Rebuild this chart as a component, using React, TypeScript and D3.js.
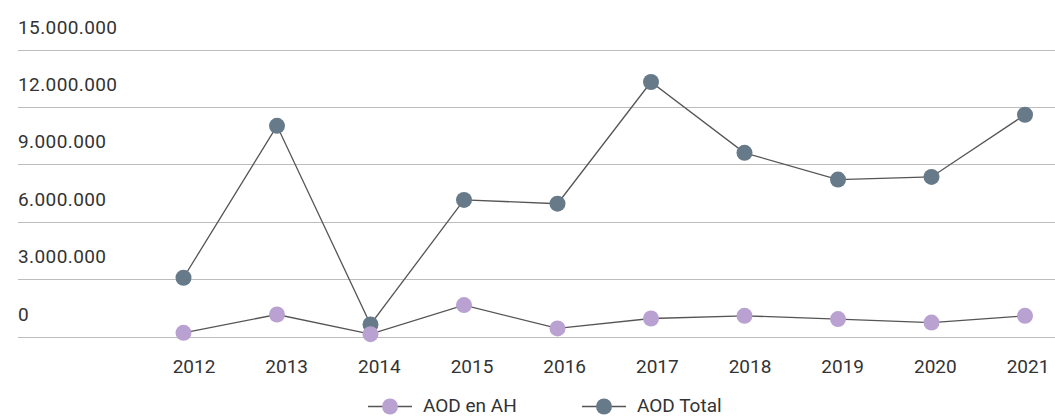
import React, { useEffect, useRef } from 'react';
import * as d3 from 'd3';

const years = ['2012', '2013', '2014', '2015', '2016', '2017', '2018', '2019', '2020', '2021'];
const aodTotal = [3070000, 11010000, 630000, 7140000, 6940000, 13300000, 9600000, 8200000, 8340000, 11590000];
const aodAH = [190000, 1150000, 120000, 1640000, 420000, 940000, 1080000, 910000, 730000, 1080000];
const yTicks = [0, 3000000, 6000000, 9000000, 12000000, 15000000];

const series = [
  { name: 'AOD en AH', values: aodAH, color: '#b9a1d1' },
  { name: 'AOD Total', values: aodTotal, color: '#677a8a' },
];

const W = 1055;
const H = 417;
const FONT = 'Roboto, sans-serif';

const App = () => {
  const svgRef = useRef<SVGSVGElement>(null);

  useEffect(() => {
    const svg = d3.select(svgRef.current);
    svg.selectAll('*').remove();

    const x = d3.scalePoint<string>().domain(years).range([183.5, 1025]);
    const xLabel = d3.scalePoint<string>().domain(years).range([194, 1028]);
    const y = d3.scaleLinear().domain([0, 15000000]).range([336.5, 49.5]);

    // grid + y labels
    const grid = svg.append('g');
    grid.selectAll('line')
      .data(yTicks)
      .join('line')
      .attr('x1', 18)
      .attr('x2', W)
      .attr('y1', d => Math.round(y(d)) + 0.5)
      .attr('y2', d => Math.round(y(d)) + 0.5)
      .attr('stroke', '#bdbdbd')
      .attr('stroke-width', 1);

    grid.selectAll('text')
      .data(yTicks)
      .join('text')
      .attr('x', 18)
      .attr('y', d => y(d) - 16)
      .style('font-family', FONT)
      .style('font-size', '19px')
      .style('letter-spacing', '0.4px')
      .style('fill', '#333')
      .text(d => d3.format(',')(d).replace(/,/g, '.'));

    // x labels
    svg.append('g')
      .selectAll('text')
      .data(years)
      .join('text')
      .attr('x', d => xLabel(d)!)
      .attr('y', 373)
      .attr('text-anchor', 'middle')
      .style('font-family', FONT)
      .style('font-size', '19px')
      .style('fill', '#333')
      .text(d => d);

    const line = d3.line<number>()
      .x((_, i) => x(years[i])!)
      .y(d => y(d));

    // draw total first so AH dots sit on top
    [series[1], series[0]].forEach(s => {
      const g = svg.append('g');
      g.append('path')
        .datum(s.values)
        .attr('fill', 'none')
        .attr('stroke', '#555')
        .attr('stroke-width', 1.3)
        .attr('d', line);
      g.selectAll('circle')
        .data(s.values)
        .join('circle')
        .attr('cx', (_, i) => x(years[i])!)
        .attr('cy', d => y(d))
        .attr('r', 8)
        .attr('fill', s.color);
    });

    // legend
    const legendX = [368, 582];
    const legend = svg.append('g');
    series.forEach((s, i) => {
      const g = legend.append('g').attr('transform', `translate(${legendX[i]},406.5)`);
      g.append('line')
        .attr('x1', 0)
        .attr('x2', 44)
        .attr('stroke', '#555')
        .attr('stroke-width', 1.3);
      g.append('circle').attr('cx', 22).attr('r', 8).attr('fill', s.color);
      g.append('text')
        .attr('x', 55)
        .attr('y', 5)
        .style('font-family', FONT)
        .style('font-size', '19px')
        .style('fill', '#333')
        .text(s.name);
    });
  }, []);

  return (
    <svg
      ref={svgRef}
      width={W}
      height={H}
      style={{ position: 'absolute', left: 0, top: 0, background: '#fff' }}
    />
  );
};

export default App;
